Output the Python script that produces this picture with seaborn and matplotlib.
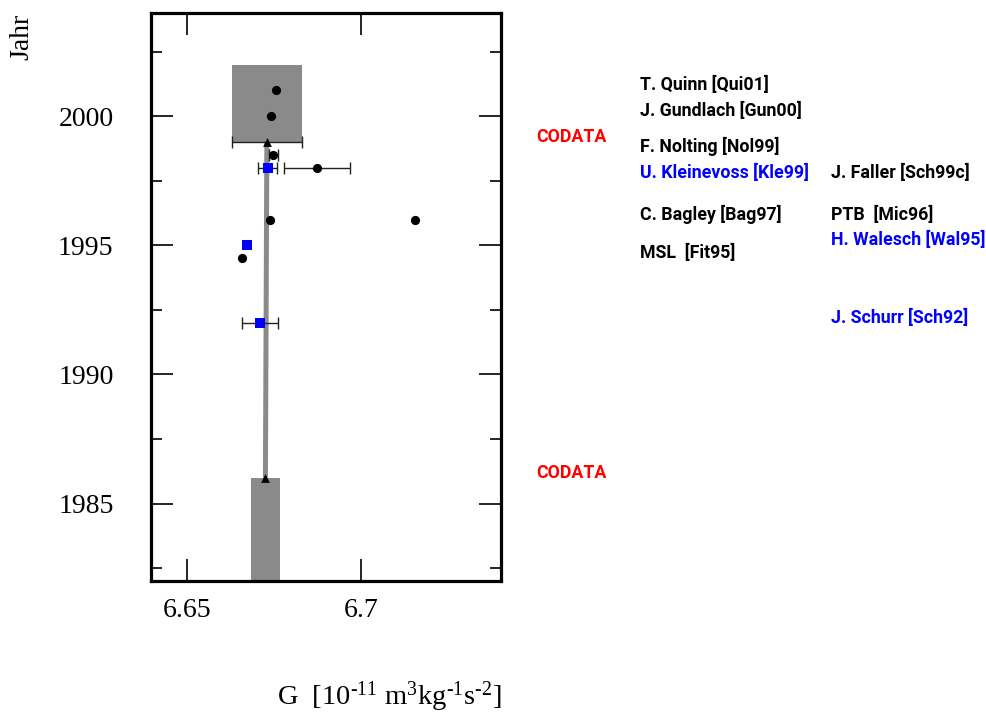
import matplotlib
matplotlib.use("Agg")
import matplotlib.pyplot as plt
import matplotlib.transforms as mtransforms
from matplotlib.patches import Rectangle
import seaborn as sns
import pandas as pd

# ---------------- data ----------------
# black circles: measurements
circ_names = ["T. Quinn [Qui01]", "J. Gundlach [Gun00]", "F. Nolting [Nol99]",
              "J. Faller [Sch99c]", "C. Bagley [Bag97]", "PTB  [Mic96]", "MSL  [Fit95]"]
circ_G = [6.6756, 6.6742, 6.6749, 6.6873, 6.6739, 6.7154, 6.6659]
circ_year = [2001, 2000, 1998.5, 1998, 1996, 1996, 1994.5]
circ_err = [0.0, 0.0, 0.0013, 0.0094, 0.0, 0.0, 0.0]

# blue squares: measurements
sq_names = ["U. Kleinevoss [Kle99]", "H. Walesch [Wal95]", "J. Schurr [Sch92]"]
sq_G = [6.6733, 6.6672, 6.6710]
sq_year = [1998, 1995, 1992]
sq_err = [0.0027, 0.0, 0.0051]

# CODATA recommended values
codata_G = [6.67259, 6.673]
codata_year = [1986, 1999]
codata_err = [0.0042, 0.010]
codata_box_lo = [1980, 1999]
codata_box_hi = [1986, 2002]

x_ticks = [6.65, 6.7]
x_ticklabels = ["6.65", "6.7"]
y_major = [1985, 1990, 1995, 2000]
y_minor = [1982.5, 1987.5, 1992.5, 1997.5, 2002.5]

# ---------------- style ----------------
sns.set_style("white")
plt.rcParams["font.family"] = ["Liberation Serif", "DejaVu Serif"]
plt.rcParams["text.color"] = "black"
plt.rcParams["axes.labelcolor"] = "black"
plt.rcParams["xtick.color"] = "black"
plt.rcParams["ytick.color"] = "black"
plt.rcParams["mathtext.fontset"] = "custom"
plt.rcParams["mathtext.rm"] = "Liberation Serif"
plt.rcParams["mathtext.it"] = "Liberation Serif:italic"
plt.rcParams["mathtext.default"] = "regular"

W, H = 987, 714
fig = plt.figure(figsize=(W / 100, H / 100), dpi=100)
ax = fig.add_axes([151 / W, 1 - 581 / H, 350 / W, 568 / H])

grey = "#8a8a8a"
# CODATA boxes
for g, e, lo, hi in zip(codata_G, codata_err, codata_box_lo, codata_box_hi):
    ax.add_patch(Rectangle((g - e, lo), 2 * e, hi - lo, facecolor=grey,
                           edgecolor="none", zorder=1))
# connecting line
ax.plot(codata_G, codata_year, color=grey, lw=3.6, solid_capstyle="butt", zorder=2)

# error bars
eb = dict(fmt="none", ecolor="#222222", elinewidth=1.0, capsize=4, capthick=1.0, zorder=3)
ax.errorbar(codata_G[1:], codata_year[1:], xerr=codata_err[1:], **eb)
ce = [(g, y, e) for g, y, e in zip(circ_G, circ_year, circ_err) if e > 0]
ax.errorbar([c[0] for c in ce], [c[1] for c in ce], xerr=[c[2] for c in ce], **eb)
se = [(g, y, e) for g, y, e in zip(sq_G, sq_year, sq_err) if e > 0]
ax.errorbar([c[0] for c in se], [c[1] for c in se], xerr=[c[2] for c in se], **eb)

df_c = pd.DataFrame({"G": circ_G, "year": circ_year})
df_s = pd.DataFrame({"G": sq_G, "year": sq_year})
df_t = pd.DataFrame({"G": codata_G, "year": codata_year})
sns.scatterplot(data=df_c, x="G", y="year", ax=ax, marker="o", color="black",
                s=44, linewidth=0, zorder=4)
sns.scatterplot(data=df_s, x="G", y="year", ax=ax, marker="s", color="#0000ff",
                s=44, linewidth=0, zorder=4)
sns.scatterplot(data=df_t, x="G", y="year", ax=ax, marker="^", color="black",
                s=40, linewidth=0, zorder=4)

ax.set_xlim(6.6398, 6.7401)
ax.set_ylim(1982.0, 2004.0)
ax.set_xticks(x_ticks)
ax.set_xticklabels(x_ticklabels)
ax.set_yticks(y_major)
ax.set_yticks(y_minor, minor=True)
ax.set_xlabel("")
ax.set_ylabel("")
ax.tick_params(axis="both", which="major", direction="in", length=16, width=1.2,
               top=True, right=True, bottom=True, left=True, labelsize=20, colors="black")
ax.tick_params(axis="both", which="minor", direction="in", length=8, width=1.2,
               top=True, right=True, bottom=True, left=True)
ax.tick_params(axis="y", which="major", pad=27)
ax.tick_params(axis="x", which="major", pad=12)
for sp in ax.spines.values():
    sp.set_linewidth(2.3)
    sp.set_color("black")
    sp.set_visible(True)

# axis titles
xl_pos = (501 / W, 1 - 705 / H)
xl = fig.text(*xl_pos, r"G  [10$^{\text{-}11}$ m$^{3}$kg$^{\text{-}1}$s$^{\text{-}2}$]",
              ha="right", va="baseline", fontsize=20.5)
try:
    fig.canvas.draw()
except Exception:
    xl.remove()
    fig.text(*xl_pos, r"G  [10$^{-11}$ m$^{3}$kg$^{-1}$s$^{-2}$]",
             ha="right", va="baseline", fontsize=20.5)
fig.text(22 / W, 1 - 37 / H, "Jahr", rotation=90, ha="center", va="center", fontsize=20)

# annotations (x in figure fraction, y in data years)
tr = mtransforms.blended_transform_factory(fig.transFigure, ax.transData)
lab_font = dict(family=["Roboto", "DejaVu Sans"], fontweight="bold", fontsize=12.8,
                va="baseline", ha="left")
col1, col2, colc = 640 / W, 831 / W, 536 / W
left_labels = [("T. Quinn [Qui01]", 2001.0, "black"),
               ("J. Gundlach [Gun00]", 2000.0, "black"),
               ("F. Nolting [Nol99]", 1998.6, "black"),
               ("U. Kleinevoss [Kle99]", 1997.6, "#0000ff"),
               ("C. Bagley [Bag97]", 1996.0, "black"),
               ("MSL  [Fit95]", 1994.5, "black")]
right_labels = [("J. Faller [Sch99c]", 1997.6, "black"),
                ("PTB  [Mic96]", 1996.0, "black"),
                ("H. Walesch [Wal95]", 1995.0, "#0000ff"),
                ("J. Schurr [Sch92]", 1992.0, "#0000ff")]
for t, y, c in left_labels:
    fig.text(col1, y, t, color=c, transform=tr, **lab_font)
for t, y, c in right_labels:
    fig.text(col2, y, t, color=c, transform=tr, **lab_font)
for y in codata_year:
    fig.text(colc, y, "CODATA", color="#ff0000", transform=tr, **lab_font)

fig.savefig("out.png", dpi=100)
